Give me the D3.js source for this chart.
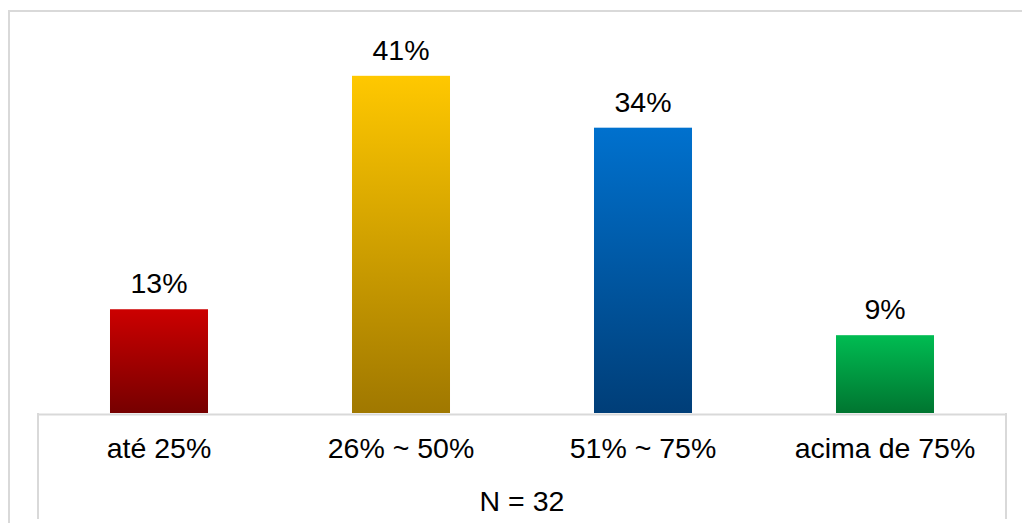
<!DOCTYPE html>
<html>
<head>
<meta charset="utf-8">
<script src="https://cdn.jsdelivr.net/npm/d3@7"></script>
<style>
  html, body { margin: 0; padding: 0; background: #fff; }
  svg { display: block; }
  text { font-family: "Liberation Sans", Arial, sans-serif; fill: #000; }
</style>
</head>
<body>
<svg id="chart" width="1022" height="523"></svg>
<script>
var categories = ['até 25%', '26% ~ 50%', '51% ~ 75%', 'acima de 75%'];
var values = [12.5, 40.625, 34.375, 9.375];
var valueLabels = ['13%', '41%', '34%', '9%'];
var topColors = ['#CC0000', '#FFC800', '#0071CE', '#00BC52'];
var bottomColors = ['#760000', '#A07800', '#003E78', '#007530'];
var footnote = 'N = 32';

var svg = d3.select('#chart');
var left = 38, right = 1006, base = 413;
var fontSize = 28.5;

// outer chart border
svg.append('rect')
  .attr('x', 9).attr('y', 11)
  .attr('width', 1020).attr('height', 540)
  .attr('fill', 'none')
  .attr('stroke', '#d9d9d9')
  .attr('stroke-width', 2);

var x = d3.scaleBand()
  .domain(categories)
  .range([left, right])
  .paddingInner(0.595)
  .paddingOuter(0.2975);

var y = d3.scaleLinear()
  .domain([0, 45])
  .range([base, base - 45 * 8.3]);

var defs = svg.append('defs');
categories.forEach(function(c, i) {
  var g = defs.append('linearGradient')
    .attr('id', 'grad' + i)
    .attr('x1', 0).attr('y1', 0)
    .attr('x2', 0).attr('y2', 1);
  g.append('stop').attr('offset', '0%').attr('stop-color', topColors[i]);
  g.append('stop').attr('offset', '100%').attr('stop-color', bottomColors[i]);
});

svg.selectAll('rect.bar')
  .data(values)
  .enter().append('rect')
  .attr('class', 'bar')
  .attr('x', function(d, i) { return x(categories[i]); })
  .attr('y', function(d) { return y(d); })
  .attr('width', x.bandwidth())
  .attr('height', function(d) { return y(0) - y(d); })
  .attr('fill', function(d, i) { return 'url(#grad' + i + ')'; });

svg.selectAll('text.val')
  .data(values)
  .enter().append('text')
  .attr('class', 'val')
  .attr('x', function(d, i) { return x(categories[i]) + x.bandwidth() / 2; })
  .attr('y', function(d) { return y(d) - 16; })
  .attr('text-anchor', 'middle')
  .attr('font-size', fontSize)
  .text(function(d, i) { return valueLabels[i]; });

// axis + table-ish lines
var xAxis = d3.axisBottom(x).tickSize(0).tickPadding(0).tickFormat('');
var ax = svg.append('g').attr('transform', 'translate(0,' + (base + 1) + ')').call(xAxis);
ax.select('.domain').attr('stroke', '#d9d9d9').attr('stroke-width', 2);

svg.append('line')
  .attr('x1', left).attr('x2', left)
  .attr('y1', base).attr('y2', 519)
  .attr('stroke', '#d9d9d9').attr('stroke-width', 2);
svg.append('line')
  .attr('x1', right).attr('x2', right)
  .attr('y1', base).attr('y2', 519)
  .attr('stroke', '#d9d9d9').attr('stroke-width', 2);

svg.selectAll('text.cat')
  .data(categories)
  .enter().append('text')
  .attr('class', 'cat')
  .attr('x', function(d) { return x(d) + x.bandwidth() / 2; })
  .attr('y', 458)
  .attr('text-anchor', 'middle')
  .attr('font-size', fontSize)
  .text(function(d) { return d; });

svg.append('text')
  .attr('x', (left + right) / 2)
  .attr('y', 511)
  .attr('text-anchor', 'middle')
  .attr('font-size', fontSize)
  .text(footnote);
</script>
</body>
</html>
